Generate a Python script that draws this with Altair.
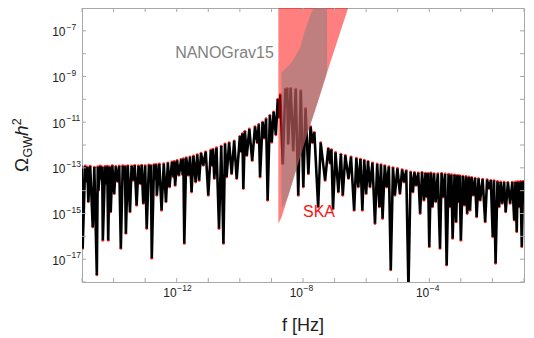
import altair as alt
import pandas as pd

# ---- spectrum: log10 f [Hz] and log10 Omega_GW h^2 ----
spec_logf = [
    -15.00, -14.98, -14.90, -14.86, -14.83, -14.80, -14.74, -14.66, -14.61, -14.53,
    -14.50, -14.48, -14.42, -14.38, -14.36, -14.34, -14.27, -14.22, -14.20, -14.17,
    -14.13, -14.09, -14.04, -13.98, -13.93, -13.87, -13.82, -13.77, -13.71, -13.66,
    -13.64, -13.61, -13.55, -13.48, -13.43, -13.38, -13.33, -13.27, -13.21, -13.15,
    -13.11, -13.06, -13.00, -12.95, -12.88, -12.84, -12.82, -12.79, -12.72, -12.67,
    -12.65, -12.63, -12.55, -12.48, -12.41, -12.34, -12.28, -12.23, -12.15, -12.10,
    -12.08, -12.05, -11.99, -11.93, -11.86, -11.81, -11.79, -11.76, -11.70, -11.63,
    -11.58, -11.53, -11.47, -11.40, -11.35, -11.29, -11.23, -11.16, -11.08, -11.00,
    -10.92, -10.87, -10.85, -10.81, -10.74, -10.66, -10.59, -10.52, -10.47, -10.42,
    -10.34, -10.26, -10.18, -10.10, -10.00, -9.95, -9.92, -9.89, -9.84, -9.78,
    -9.70, -9.61, -9.52, -9.45, -9.40, -9.36, -9.28, -9.22, -9.17, -9.12,
    -9.05, -8.99, -8.93, -8.86, -8.80, -8.76, -8.72, -8.64, -8.56, -8.52,
    -8.50, -8.47, -8.39, -8.31, -8.23, -8.15, -8.07, -7.99, -7.92, -7.83,
    -7.76, -7.70, -7.64, -7.52, -7.44, -7.30, -7.20, -7.14, -7.10, -7.05,
    -6.97, -6.88, -6.80, -6.74, -6.66, -6.56, -6.48, -6.38, -6.31, -6.25,
    -6.18, -6.12, -6.06, -6.00, -5.94, -5.88, -5.80, -5.72, -5.65, -5.58,
    -5.53, -5.48, -5.41, -5.35, -5.28, -5.22, -5.15, -5.09, -5.01, -4.93,
    -4.86, -4.80, -4.73, -4.66, -4.59, -4.52, -4.47, -4.42, -4.35, -4.29,
    -4.23, -4.17, -4.12, -4.08, -4.04, -4.00, -3.95, -3.90, -3.85, -3.80,
    -3.73, -3.66, -3.61, -3.56, -3.50, -3.45, -3.39, -3.34, -3.30, -3.26,
    -3.20, -3.15, -3.11, -3.08, -3.04, -3.00, -2.94, -2.89, -2.84, -2.80,
    -2.75, -2.71, -2.66, -2.61, -2.55, -2.50, -2.44, -2.39, -2.31, -2.23,
    -2.17, -2.11, -2.05, -1.99, -1.95, -1.90, -1.84, -1.79, -1.74, -1.69,
    -1.63, -1.58, -1.51, -1.44, -1.37, -1.31, -1.27, -1.23, -1.20, -1.16,
    -1.11, -1.07, -1.03, -1.00,
]
spec_logomega = [
    -12.95, -16.53, -12.92, -13.60, -12.96, -14.49, -12.93, -15.59, -12.97, -17.69,
    -12.95, -13.98, -12.92, -13.50, -12.96, -16.17, -12.94, -13.70, -12.93, -16.17,
    -12.95, -14.93, -12.90, -14.13, -12.94, -13.60, -12.92, -16.53, -12.91, -13.50,
    -12.93, -15.87, -12.90, -14.93, -12.92, -13.55, -12.89, -14.64, -12.91, -13.70,
    -12.88, -14.56, -12.90, -15.66, -12.87, -13.60, -12.89, -16.96, -12.86, -13.50,
    -12.85, -14.20, -12.83, -14.86, -12.82, -14.49, -12.78, -13.84, -12.74, -13.40,
    -12.72, -13.77, -12.68, -13.33, -12.63, -13.30, -12.60, -16.31, -12.56, -13.33,
    -12.52, -14.06, -12.48, -13.62, -12.42, -13.55, -12.36, -12.89, -12.30, -14.20,
    -12.22, -12.90, -12.18, -13.47, -12.12, -15.66, -12.05, -16.31, -11.95, -13.40,
    -11.90, -13.26, -11.82, -13.47, -11.62, -12.30, -11.50, -13.91, -11.40, -12.46,
    -11.30, -12.68, -11.20, -11.90, -11.10, -13.40, -11.00, -11.70, -10.85, -14.42,
    -10.70, -11.88, -10.55, -11.55, -10.00, -10.80, -9.80, -12.82, -9.55, -10.30,
    -9.52, -11.95, -9.52, -12.24, -9.55, -14.20, -9.62, -13.84, -10.40, -13.26,
    -11.20, -11.90, -11.45, -14.71, -11.90, -13.55, -12.15, -12.80, -12.20, -14.80,
    -12.33, -14.06, -12.40, -14.20, -12.46, -13.47, -12.52, -14.86, -12.58, -13.84,
    -12.62, -14.86, -12.66, -14.13, -12.72, -13.84, -12.78, -15.44, -12.83, -14.71,
    -12.86, -15.22, -12.90, -13.84, -12.95, -17.47, -12.99, -14.20, -13.03, -14.13,
    -13.08, -13.62, -13.12, -18.30, -13.18, -14.06, -13.20, -13.77, -13.22, -15.00,
    -13.20, -14.42, -13.23, -14.28, -13.24, -16.46, -13.22, -14.71, -13.25, -14.49,
    -13.26, -16.53, -13.24, -14.28, -13.27, -17.26, -13.28, -14.71, -13.30, -16.09,
    -13.31, -15.37, -13.33, -14.49, -13.34, -16.17, -13.36, -14.64, -13.38, -15.00,
    -13.40, -14.86, -13.42, -14.20, -13.45, -15.15, -13.47, -14.42, -13.50, -15.37,
    -13.52, -13.91, -13.55, -16.02, -13.56, -17.18, -13.60, -14.71, -13.62, -14.56,
    -13.63, -14.93, -13.64, -14.56, -13.63, -15.29, -13.62, -15.80, -13.61, -14.71,
    -13.60, -16.46, -13.59, -14.42,
]

# ---- SKA sensitivity region (horizontal band per log Omega) ----
ska_logomega = [-15.42, -15.16, -14.42, -13.11, -11.50, -10.06, -8.62, -6.00]
ska_logf_left = [-8.78, -8.78, -8.78, -8.78, -8.78, -8.78, -8.78, -8.78]
ska_logf_right = [-8.77, -8.68, -8.51, -8.22, -7.86, -7.52, -7.19, -6.57]

# ---- NANOGrav15 region ----
ng_logomega = [-14.73, -14.24, -13.11, -11.50, -10.06, -8.84, -8.82, -8.39, -7.73, -7.00, -6.57, -6.35, -6.00]
ng_logf_left = [-8.66, -8.68, -8.68, -8.68, -8.68, -8.68, -8.68, -8.36, -8.09, -7.94, -7.83, -7.78, -7.67]
ng_logf_right = [-8.64, -8.47, -8.22, -7.86, -7.52, -7.24, -7.24, -7.24, -7.24, -7.24, -7.24, -7.24, -7.24]

# ---- annotations ----
ann_text = ["NANOGrav15", "SKA"]
ann_logf = [-12.05, -8.00]
ann_logomega = [-8.18, -15.16]
ann_color = ["#7f7f7f", "#ff1010"]

# ---- ticks and labels ----
x_ticks = [-15, -14, -13, -12, -11, -10, -9, -8, -7, -6, -5, -4, -3, -2, -1]
x_label_values = [-12, -8, -4]
x_label_exp = ["−12", "−8", "−4"]
y_ticks = [-18, -17, -16, -15, -14, -13, -12, -11, -10, -9, -8, -7, -6]
y_label_values = [-17, -15, -13, -11, -9, -7]
y_label_exp = ["−17", "−15", "−13", "−11", "−9", "−7"]
label_base = "10"
x_title = "f [Hz]"

W, H = 442, 274
FONT = "Liberation Sans"
FRAME = "#a8a8a8"
TXT = "#222222"

xs = alt.Scale(domain=[-15, -1], nice=False, zero=False)
ys = alt.Scale(domain=[-18, -6], nice=False, zero=False)

spec_df = pd.DataFrame({"logf": spec_logf, "logomega": spec_logomega})
ska_df = pd.DataFrame({"y": ska_logomega, "x1": ska_logf_left, "x2": ska_logf_right})
ng_df = pd.DataFrame({"y": ng_logomega, "x1": ng_logf_left, "x2": ng_logf_right})
ann_df = pd.DataFrame({"t": ann_text, "x": ann_logf, "y": ann_logomega, "c": ann_color})
xt_df = pd.DataFrame({"v": x_ticks})
yt_df = pd.DataFrame({"v": y_ticks})
xl_df = pd.DataFrame({"v": x_label_values, "e": x_label_exp})
yl_df = pd.DataFrame({"v": y_label_values, "e": y_label_exp})

X = lambda f: alt.X(f, scale=xs, axis=None)
Y = lambda f: alt.Y(f, scale=ys, axis=None)

points = alt.Chart(spec_df).mark_point(filled=True, color="#ff2020", size=8, opacity=1, clip=True).encode(
    x=X("logf:Q"), y=Y("logomega:Q"))
line = alt.Chart(spec_df).mark_line(color="black", strokeWidth=2.6, clip=True).encode(
    x=X("logf:Q"), y=Y("logomega:Q"))
ska = alt.Chart(ska_df).mark_area(orient="horizontal", color="#ff0000", opacity=0.5, clip=True).encode(
    y=Y("y:Q"), x=X("x1:Q"), x2="x2:Q")
ng = alt.Chart(ng_df).mark_area(orient="horizontal", color="#808080", opacity=0.5, clip=True).encode(
    y=Y("y:Q"), x=X("x1:Q"), x2="x2:Q")
ann = alt.Chart(ann_df).mark_text(align="left", baseline="alphabetic", font=FONT, fontSize=16).encode(
    x=X("x:Q"), y=Y("y:Q"), text="t:N", color=alt.Color("c:N", scale=None))

tick_style = dict(color=FRAME, strokeWidth=1)
xt_bottom = alt.Chart(xt_df).mark_rule(**tick_style).encode(x=X("v:Q"), y=alt.value(H), y2=alt.value(H - 4))
xt_top = alt.Chart(xt_df).mark_rule(**tick_style).encode(x=X("v:Q"), y=alt.value(0), y2=alt.value(4))
yt_left = alt.Chart(yt_df).mark_rule(**tick_style).encode(y=Y("v:Q"), x=alt.value(0), x2=alt.value(4))
yt_right = alt.Chart(yt_df).mark_rule(**tick_style).encode(y=Y("v:Q"), x=alt.value(W), x2=alt.value(W - 4))

# tick labels: "10" with a raised, smaller exponent
xl_base = alt.Chart(xl_df).mark_text(align="right", baseline="alphabetic", font=FONT, fontSize=12, color=TXT).encode(
    x=X("v:Q"), y=alt.value(H + 14.5), text=alt.value(label_base))
xl_exp = alt.Chart(xl_df).mark_text(align="left", baseline="alphabetic", font=FONT, fontSize=8.5, color=TXT, dx=0.5).encode(
    x=X("v:Q"), y=alt.value(H + 9), text="e:N")
yl_base = alt.Chart(yl_df).mark_text(align="right", baseline="alphabetic", font=FONT, fontSize=12, color=TXT, dy=5.5).encode(
    y=Y("v:Q"), x=alt.value(-16.5), text=alt.value(label_base))
yl_exp = alt.Chart(yl_df).mark_text(align="left", baseline="alphabetic", font=FONT, fontSize=8.5, color=TXT, dy=-1).encode(
    y=Y("v:Q"), x=alt.value(-15.5), text="e:N")

def piece(txt, x, y, size, style="normal", angle=270, align="left"):
    return alt.Chart(pd.DataFrame({"t": [txt]})).mark_text(
        angle=angle, align=align, baseline="alphabetic", font=FONT, fontSize=size,
        fontStyle=style, color=TXT).encode(text="t:N", x=alt.value(x), y=alt.value(y))

xtitle = piece(x_title, W / 2, 323, 18, angle=0, align="center")
# y-axis title  Omega_GW h^2, assembled from pieces (rotated)
ytitle = (piece("Ω", -54, 164, 19) + piece("GW", -50, 149.4, 12.5)
          + piece("h", -54, 127.9, 19, "italic") + piece("2", -61, 117.3, 12.5))

chart = alt.layer(points, line, ska, ng, ann, xt_bottom, xt_top, yt_left, yt_right,
                  xl_base, xl_exp, yl_base, yl_exp, xtitle, ytitle).properties(
    width=W, height=H,
    autosize=alt.AutoSizeParams(type="none"),
    padding={"left": 74, "top": 0, "right": 2, "bottom": 54},
).configure_view(stroke=FRAME, strokeWidth=1)

chart.save("out.html", embed_options={"renderer": "svg", "actions": False})
